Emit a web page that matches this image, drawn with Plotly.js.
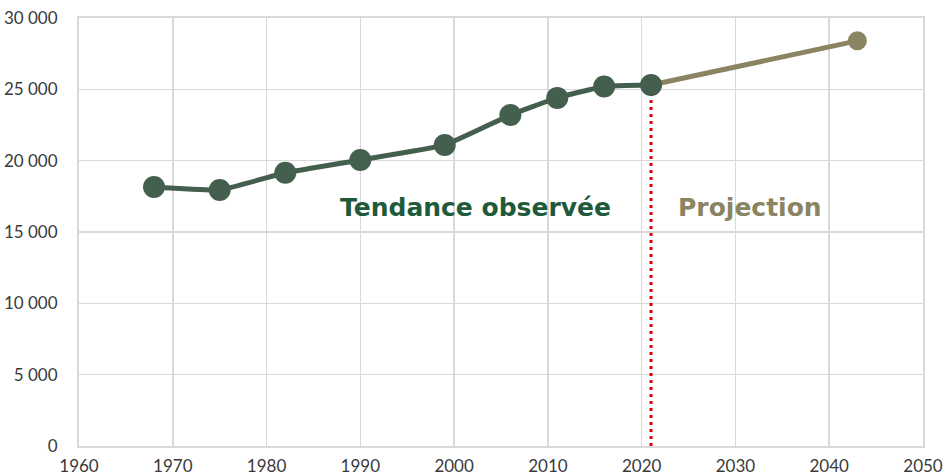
<!DOCTYPE html>
<html>
<head>
<meta charset="utf-8">
<script src="https://cdn.plot.ly/plotly-3.0.1.min.js"></script>
<style>html,body{margin:0;padding:0;background:#fff;}#chart{width:948px;height:475px;}</style>
</head>
<body>
<div id="chart"></div>
<script>
var obsYears = [1968, 1975, 1982, 1990, 1999, 2006, 2011, 2016, 2021];
var obsValues = [18150, 17950, 19150, 20050, 21100, 23200, 24400, 25200, 25300];
var projYears = [2021, 2043];
var projValues = [25300, 28400];
var projPointYears = [2043];
var projPointValues = [28400];
var markerYear = 2021;
var markerTop = 25300;
var labelObserved = "Tendance observée";
var labelProjection = "Projection";

var traces = [
  {
    x: [markerYear, markerYear], y: [0, markerTop],
    mode: 'lines', line: {color: '#e00000', width: 3, dash: '3px,4px'},
    hoverinfo: 'skip', showlegend: false
  },
  {
    x: projYears, y: projValues, mode: 'lines',
    line: {color: '#8a8462', width: 5},
    showlegend: false
  },
  {
    x: projPointYears, y: projPointValues, mode: 'markers',
    marker: {color: '#8a8462', size: 19, opacity: 1, line: {width: 0}},
    showlegend: false
  },
  {
    x: obsYears, y: obsValues, mode: 'lines+markers',
    line: {color: '#455f4e', width: 5, shape: 'spline', smoothing: 0.4},
    marker: {color: '#455f4e', size: 22, opacity: 1, line: {width: 0}},
    showlegend: false
  }
];

var layout = {
  width: 948, height: 475,
  margin: {l: 79, r: 25, t: 18, b: 29},
  paper_bgcolor: '#fff', plot_bgcolor: '#fff',
  separators: ', ',
  font: {family: 'Lato, "Open Sans", sans-serif', size: 17, color: '#3a3a3a'},
  xaxis: {
    range: [1960, 2050], dtick: 10, tick0: 1960,
    showgrid: true, gridcolor: '#d9d9d9', gridwidth: 1.5,
    showline: true, linecolor: '#d9d9d9', linewidth: 2, mirror: true,
    zeroline: false, ticks: '', ticklen: 0, ticklabelstandoff: 4,
    tickfont: {size: 17, color: '#3a3a3a'}
  },
  yaxis: {
    range: [0, 30000], dtick: 5000, tick0: 0,
    tickformat: ',d',
    showgrid: true, gridcolor: '#d9d9d9', gridwidth: 1.5,
    showline: true, linecolor: '#d9d9d9', linewidth: 2, mirror: true,
    zeroline: false, ticks: '', ticklen: 0, ticklabelstandoff: 16,
    tickfont: {size: 17, color: '#3a3a3a'}
  },
  annotations: [
    {x: 2002.3, y: 16750, xref: 'x', yref: 'y', text: '<b>' + labelObserved + '</b>', showarrow: false,
     font: {family: '"DejaVu Sans", sans-serif', size: 25, color: '#1f5a3c'}},
    {x: 2031.6, y: 16750, xref: 'x', yref: 'y', text: '<b>' + labelProjection + '</b>', showarrow: false,
     font: {family: '"DejaVu Sans", sans-serif', size: 25, color: '#8a8462'}}
  ]
};

Plotly.newPlot('chart', traces, layout, {displayModeBar: false, staticPlot: true});
</script>
</body>
</html>
